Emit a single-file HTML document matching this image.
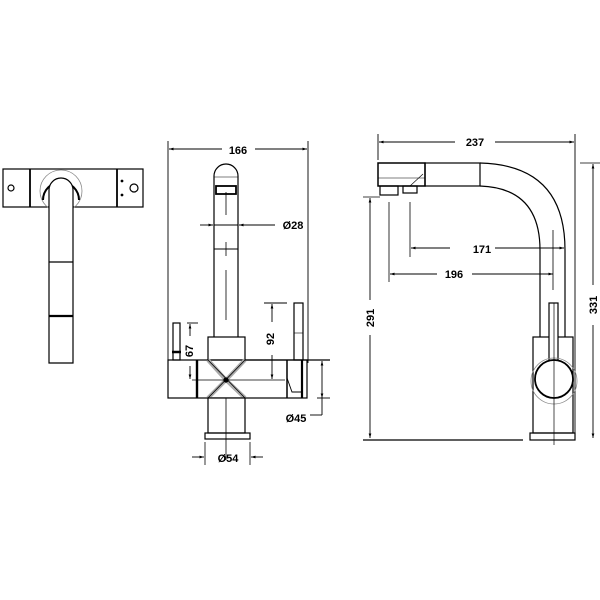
<!DOCTYPE html>
<html><head><meta charset="utf-8"><style>html,body{margin:0;padding:0;background:#fff}svg{display:block}</style></head>
<body>
<svg width="600" height="600" viewBox="0 0 600 600" xmlns="http://www.w3.org/2000/svg" font-family="Liberation Sans, sans-serif" font-weight="bold" font-size="11">
<defs><marker id="a" viewBox="0 0 10 10" refX="10" refY="5" markerWidth="5" markerHeight="5" orient="auto-start-reverse"><path d="M0,2 L10,5 L0,8z" fill="#000"/></marker></defs>
<g fill="none" stroke="#000" stroke-width="1.2">
<!-- LEFT TOP VIEW -->
<rect x="3" y="169" width="140" height="38"/>
<line x1="30" y1="169" x2="30" y2="207" stroke-width="1.8"/>
<line x1="117" y1="169" x2="117" y2="207" stroke-width="1.8"/>
<circle cx="11" cy="188" r="3"/>
<circle cx="134" cy="188" r="4"/>
<circle cx="122" cy="181" r="0.8" fill="#000"/>
<circle cx="122" cy="195" r="0.8" fill="#000"/>
<circle cx="61" cy="191" r="21" stroke="#888" stroke-width="0.8"/>
<path d="M43,200 A18 18 0 0 1 79,200" stroke-width="2"/>
<path d="M49,363 L49,190 A12 12 0 0 1 73,190 L73,363 Z" fill="#fff"/>
<line x1="49" y1="262" x2="73" y2="262"/>
<line x1="49" y1="316" x2="73" y2="316" stroke-width="2.2"/>
<!-- MIDDLE FRONT VIEW -->
<line x1="168" y1="141" x2="168" y2="363" stroke-width="0.9"/>
<line x1="308" y1="141" x2="308" y2="363" stroke-width="0.9"/>
<line x1="169" y1="149" x2="222" y2="149" stroke-width="0.9" marker-start="url(#a)"/>
<line x1="255" y1="149" x2="307" y2="149" stroke-width="0.9" marker-end="url(#a)"/>
<path d="M214,337 L214,176 A12 12 0 0 1 238,176 L238,337"/>
<rect x="216" y="186" width="20" height="8" stroke-width="1.8"/>
<line x1="214" y1="177" x2="238" y2="177" stroke-width="0.6"/>
<line x1="226" y1="192" x2="226" y2="215" stroke-width="0.8"/>
<line x1="226" y1="242" x2="226" y2="256" stroke-width="0.8"/>
<line x1="226" y1="270" x2="226" y2="320" stroke-width="0.8"/>
<line x1="200" y1="225" x2="213" y2="225" stroke-width="0.9" marker-end="url(#a)"/>
<line x1="275" y1="225" x2="239" y2="225" stroke-width="0.9" marker-end="url(#a)"/>
<line x1="214" y1="225" x2="238" y2="225" stroke-width="0.9"/>
<line x1="214" y1="249" x2="238" y2="249" stroke-width="0.9"/>
<rect x="208" y="337" width="37" height="23"/>
<rect x="168" y="360" width="139" height="38"/>
<line x1="197" y1="360" x2="197" y2="398" stroke-width="2.4"/>
<line x1="287" y1="360" x2="287" y2="398" stroke-width="1.5"/>
<line x1="302" y1="360" x2="302" y2="398" stroke-width="2.2"/>
<path d="M287,378 L292,392 L302,392" stroke-width="0.9"/>
<path d="M208,360 L226,380 L245,360 M208,398 L226,380 L245,398" stroke="#aaa" stroke-width="4"/>
<path d="M208,360 L245,398 M245,360 L208,398" stroke-width="0.8"/>
<circle cx="226" cy="380" r="2" fill="#000"/>
<line x1="192" y1="380" x2="285" y2="380" stroke-width="0.8"/>
<rect x="208" y="398" width="37" height="35" fill="#fff"/>
<line x1="226" y1="398" x2="226" y2="460" stroke-width="0.8"/>
<rect x="205" y="433" width="45" height="6"/>
<rect x="173" y="323" width="7" height="37"/>
<line x1="172" y1="352" x2="181" y2="352" stroke-width="2.5"/>
<rect x="294" y="303" width="9" height="57"/>
<line x1="294" y1="333" x2="303" y2="333" stroke-width="0.6"/>
<line x1="245" y1="360" x2="330" y2="360"/>
<line x1="317" y1="398" x2="330" y2="398" stroke-width="0.9"/>
<line x1="322" y1="361" x2="322" y2="398" stroke-width="0.9" marker-start="url(#a)" marker-end="url(#a)"/>
<line x1="322" y1="398" x2="322" y2="415" stroke-width="0.9"/>
<line x1="310" y1="415" x2="322" y2="415" stroke-width="0.9"/>
<line x1="264" y1="303" x2="287" y2="303" stroke-width="0.9"/>
<line x1="272" y1="304" x2="272" y2="322" stroke-width="0.9" marker-start="url(#a)"/>
<line x1="272" y1="355" x2="272" y2="379" stroke-width="0.9" marker-end="url(#a)"/>
<line x1="187" y1="323" x2="198" y2="323" stroke-width="0.9"/>
<line x1="190" y1="324" x2="190" y2="336" stroke-width="0.9" marker-start="url(#a)"/>
<line x1="190" y1="366" x2="190" y2="379" stroke-width="0.9" marker-end="url(#a)"/>
<line x1="205" y1="442" x2="205" y2="465" stroke-width="0.8"/>
<line x1="250" y1="442" x2="250" y2="465" stroke-width="0.8"/>
<line x1="192" y1="457" x2="204" y2="457" stroke-width="0.9" marker-end="url(#a)"/>
<line x1="263" y1="457" x2="251" y2="457" stroke-width="0.9" marker-end="url(#a)"/>
<!-- RIGHT SIDE VIEW -->
<line x1="378" y1="134" x2="378" y2="160" stroke-width="0.9"/>
<line x1="575" y1="134" x2="575" y2="440" stroke-width="0.9"/>
<line x1="379" y1="142" x2="455" y2="142" stroke-width="0.9" marker-start="url(#a)"/>
<line x1="495" y1="142" x2="574" y2="142" stroke-width="0.9" marker-end="url(#a)"/>
<rect x="378" y="163" width="47" height="23" stroke-width="1.5"/>
<rect x="425" y="163" width="55" height="23"/>
<line x1="378" y1="178" x2="425" y2="178" stroke-width="0.6"/>
<path d="M410,186 L423,174" stroke-width="0.6"/>
<path d="M480,163 Q565,165 565,250 L565,337" />
<path d="M480,186 Q540,188 540,250 L540,337"/>
<rect x="380" y="186" width="18" height="9"/>
<rect x="403" y="186" width="14" height="7"/>
<line x1="363" y1="197" x2="380" y2="197" stroke-width="0.8"/>
<line x1="370" y1="198" x2="370" y2="300" stroke-width="0.9" marker-start="url(#a)"/>
<line x1="370" y1="335" x2="370" y2="438" stroke-width="0.9" marker-end="url(#a)"/>
<line x1="363" y1="440" x2="523" y2="440"/>
<line x1="389" y1="202" x2="389" y2="282" stroke-width="0.8"/>
<line x1="410" y1="202" x2="410" y2="257" stroke-width="0.8"/>
<line x1="411" y1="248" x2="450" y2="248" stroke-width="0.9" marker-start="url(#a)"/>
<line x1="495" y1="248" x2="564" y2="248" stroke-width="0.9" marker-end="url(#a)"/>
<line x1="390" y1="274" x2="437" y2="274" stroke-width="0.9" marker-start="url(#a)"/>
<line x1="472" y1="274" x2="553" y2="274" stroke-width="0.9" marker-end="url(#a)"/>
<line x1="553" y1="230" x2="553" y2="290" stroke-width="0.8"/>
<rect x="533" y="337" width="40" height="96"/>
<rect x="549" y="303" width="9" height="75" fill="#fff"/>
<circle cx="554" cy="381" r="23" stroke="#888" stroke-width="0.8"/>
<circle cx="554" cy="379" r="19" fill="#fff" stroke-width="1.8"/>
<line x1="554" y1="303" x2="554" y2="445" stroke-width="0.7"/>
<rect x="530" y="433" width="45" height="7"/>
<line x1="580" y1="163" x2="600" y2="163" stroke-width="0.8"/>
<line x1="593" y1="164" x2="593" y2="285" stroke-width="0.9" marker-start="url(#a)"/>
<line x1="593" y1="325" x2="593" y2="438" stroke-width="0.9" marker-end="url(#a)"/>
</g>
<g fill="#000" text-anchor="middle">
<text x="238" y="154">166</text>
<text x="293" y="229">Ø28</text>
<text x="296" y="422">Ø45</text>
<text x="228" y="462">Ø54</text>
<text x="475" y="146">237</text>
<text x="482" y="253">171</text>
<text x="454" y="278">196</text>
<text transform="translate(274,339) rotate(-90)">92</text>
<text transform="translate(193,351) rotate(-90)">67</text>
<text transform="translate(374,318) rotate(-90)">291</text>
<text transform="translate(597,305) rotate(-90)">331</text>
</g>
</svg>
</body></html>
